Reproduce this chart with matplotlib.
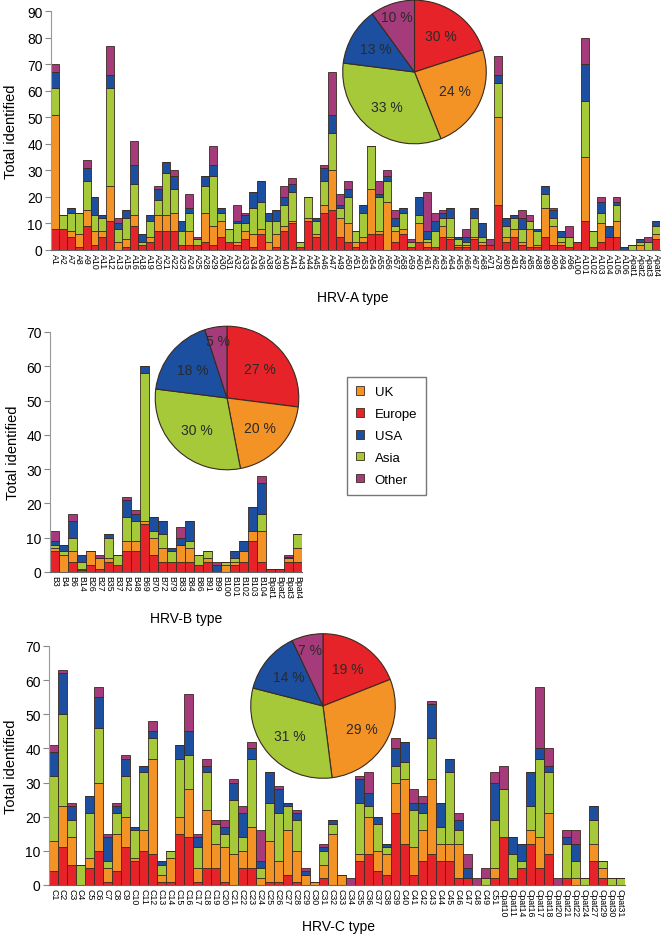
import numpy as np
import matplotlib.pyplot as plt
from matplotlib.patches import Patch

plt.rcParams['font.family'] = ['Liberation Sans', 'DejaVu Sans']

W, H = 661, 937

# colours per region
col_europe = '#e52329'
col_uk = '#f39325'
col_asia = '#a6c93a'
col_usa = '#1c4f9f'
col_other = '#a63b7b'

# ---------------- HRV-A ----------------
a_types = ['A1', 'A2', 'A7', 'A8', 'A9', 'A10', 'A11', 'A12', 'A13', 'A15', 'A16', 'A18', 'A19',
           'A20', 'A21', 'A22', 'A23', 'A24', 'A25', 'A28', 'A29', 'A30', 'A31', 'A32', 'A33',
           'A34', 'A36', 'A38', 'A39', 'A40', 'A41', 'A43', 'A44', 'A45', 'A46', 'A47', 'A49',
           'A50', 'A51', 'A53', 'A54', 'A55', 'A56', 'A57', 'A58', 'A59', 'A60', 'A61', 'A62',
           'A63', 'A64', 'A65', 'A66', 'A67', 'A68', 'A71', 'A78', 'A80', 'A81', 'A82', 'A85',
           'A88', 'A89', 'A90', 'A94', 'A96', 'A100', 'A101', 'A102', 'A103', 'A104', 'A105',
           'A106', 'Apat1', 'Apat2', 'Apat3', 'Apat4']
a_europe = [8, 8, 5, 1, 9, 2, 5, 11, 0, 1, 9, 2, 3, 7, 7, 7, 2, 2, 2, 3, 2, 5, 3, 2, 4, 1, 6, 0, 1,
            7, 10, 1, 11, 5, 14, 15, 5, 3, 1, 3, 6, 6, 0, 3, 6, 1, 3, 1, 1, 5, 4, 1, 1, 4, 2, 2,
            17, 3, 5, 2, 1, 1, 5, 2, 2, 1, 3, 11, 1, 3, 5, 5, 0, 0, 0, 0, 4]
a_uk = [43, 0, 2, 5, 6, 5, 2, 13, 3, 3, 4, 0, 2, 6, 6, 7, 0, 5, 0, 11, 7, 6, 0, 1, 3, 5, 2, 3, 5,
        2, 1, 0, 1, 1, 3, 15, 7, 7, 2, 2, 17, 1, 18, 4, 2, 0, 7, 2, 0, 4, 1, 1, 1, 1, 1, 0,
        33, 2, 3, 1, 7, 1, 11, 7, 1, 0, 0, 24, 0, 7, 0, 6, 0, 0, 2, 0, 2]
a_asia = [10, 5, 7, 8, 11, 6, 5, 37, 5, 8, 12, 1, 6, 6, 16, 9, 5, 7, 2, 10, 19, 3, 5, 7, 3, 10,
          10, 8, 5, 8, 11, 2, 8, 5, 9, 14, 4, 10, 4, 9, 16, 13, 8, 2, 6, 2, 3, 1, 6, 3, 7, 2, 1,
          7, 2, 0, 13, 4, 4, 5, 3, 5, 5, 3, 2, 4, 0, 21, 6, 4, 0, 6, 0, 2, 1, 3, 3]
a_usa = [6, 0, 2, 0, 5, 7, 1, 5, 2, 3, 7, 3, 2, 4, 4, 5, 4, 2, 0, 4, 4, 2, 0, 1, 3, 6, 8, 3, 4, 3,
         3, 0, 0, 1, 5, 7, 1, 3, 0, 3, 0, 1, 2, 3, 2, 0, 7, 3, 4, 2, 4, 1, 2, 4, 5, 0,
         3, 3, 1, 4, 0, 1, 3, 3, 2, 0, 0, 14, 0, 4, 4, 1, 1, 0, 1, 0, 2]
a_other = [3, 0, 0, 0, 3, 0, 0, 11, 2, 0, 9, 0, 0, 1, 0, 2, 0, 5, 1, 0, 7, 0, 0, 6, 1, 0, 0, 0, 0,
           4, 2, 0, 0, 0, 1, 16, 4, 3, 0, 0, 0, 5, 2, 3, 0, 1, 0, 15, 3, 1, 0, 0, 3, 0, 0, 2,
           7, 0, 0, 3, 2, 0, 0, 1, 0, 4, 0, 10, 0, 2, 0, 2, 0, 0, 0, 2, 0]
a_pie = [20, 24, 33, 13, 10]
a_pie_labels = ['30 %', '24 %', '33 %', '13 %', '10 %']

# ---------------- HRV-B ----------------
b_types = ['B3', 'B4', 'B6', 'B14', 'B26', 'B27', 'B35', 'B37', 'B42', 'B48', 'B69', 'B70',
           'B72', 'B79', 'B83', 'B84', 'B86', 'B91', 'B99', 'B100', 'B101', 'B102', 'B103',
           'B104', 'Bpat1', 'Bpat2', 'Bpat3', 'Bpat4']
b_europe = [6, 0, 3, 0.5, 2, 1, 3, 2, 6, 6, 14, 5, 3, 3, 3, 3, 2, 3, 0, 0, 2, 3, 9, 3, 1, 1, 3, 3]
b_uk = [1, 5, 3, 0.5, 4, 3, 1, 0, 3, 3, 1, 5, 4, 0, 5, 4, 0, 1, 0, 2, 1, 3, 3, 9, 0, 0, 1, 4]
b_asia = [1, 1, 4, 2, 0, 0, 6, 3, 7, 6, 43, 2, 4, 3, 0, 2, 3, 2, 0, 1, 1, 0, 0, 5, 0, 0, 0, 4]
b_usa = [1, 2, 5, 2, 0, 0, 1, 0, 5, 2, 2, 4, 4, 1, 2, 6, 0, 0, 2, 0, 2, 3, 7, 9, 0, 0, 0.5, 0]
b_other = [3, 0, 2, 0, 0, 1, 0, 0, 1, 1, 0, 0, 0, 0, 3, 0, 0, 0, 1, 0, 0, 0, 0, 2, 0, 0, 0.5, 0]
b_pie = [27, 20, 30, 18, 5]
b_pie_labels = ['27 %', '20 %', '30 %', '18 %', '5 %']

# ---------------- HRV-C ----------------
c_types = ['C%d' % i for i in range(1, 50)] + ['C51', 'Cpat10', 'Cpat11', 'Cpat14', 'Cpat16',
                                              'Cpat17', 'Cpat18', 'Cpat20', 'Cpat21', 'Cpat22',
                                              'Cpat24', 'Cpat27', 'Cpat29', 'Cpat30', 'Cpat31']
c_europe = [4, 11, 6, 0, 5, 10, 1, 4, 11, 7, 10, 9, 1, 1, 15, 14, 1, 5, 5, 1, 0, 5, 5, 0, 1, 1, 3,
            1, 0, 0, 2, 0, 0, 0, 7, 9, 4, 3, 21, 12, 3, 7, 9, 7, 7, 2, 2, 0, 0, 2,
            14, 2, 5, 12, 5, 9, 0, 2, 0, 0, 7, 2, 0, 0]
c_uk = [9, 12, 8, 0, 3, 20, 4, 11, 9, 1, 6, 28, 2, 7, 5, 14, 4, 17, 7, 10, 9, 5, 12, 2, 12, 6, 13,
        9, 3, 1, 4, 15, 3, 0, 2, 11, 6, 6, 9, 19, 8, 9, 22, 5, 5, 10, 0, 0, 0, 3,
        0, 0, 0, 4, 9, 12, 0, 0, 2, 0, 5, 3, 0, 0]
c_asia = [19, 27, 5, 6, 13, 16, 2, 6, 12, 8, 17, 6, 3, 2, 17, 10, 6, 11, 6, 4, 16, 4, 20, 3, 11,
          14, 7, 9, 0, 0, 4, 3, 0, 0, 15, 3, 8, 2, 5, 5, 11, 5, 12, 5, 21, 4, 0, 0, 2, 14,
          14, 7, 2, 7, 23, 12, 0, 10, 5, 2, 7, 2, 2, 2]
c_usa = [7, 12, 4, 0, 5, 9, 7, 2, 5, 1, 2, 2, 1, 0, 4, 7, 3, 2, 0, 2, 5, 7, 3, 2, 9, 7, 1, 2, 1,
         0, 1, 1, 0, 0, 7, 4, 2, 1, 5, 6, 2, 3, 10, 7, 4, 3, 3, 0, 0, 11,
         0, 5, 5, 10, 3, 2, 0, 2, 5, 0, 4, 0, 0, 0]
c_other = [2, 1, 1, 0, 0, 3, 1, 1, 1, 0, 0, 3, 0, 0, 0, 11, 1, 2, 1, 2, 1, 2, 2, 9, 0, 1, 0, 1,
           1, 0, 1, 0, 0, 2, 1, 6, 0, 0, 3, 0, 4, 2, 1, 0, 0, 2, 4, 2, 3, 3,
           7, 0, 0, 0, 18, 5, 2, 2, 4, 0, 0, 0, 0, 0]
c_pie = [19, 29, 31, 14, 7]
c_pie_labels = ['19 %', '29 %', '31 %', '14 %', '7 %']

legend_names = ['UK', 'Europe', 'USA', 'Asia', 'Other']
legend_cols = [col_uk, col_europe, col_usa, col_asia, col_other]
pie_cols = [col_europe, col_uk, col_asia, col_usa, col_other]

fig = plt.figure(figsize=(W / 100, H / 100), dpi=100)


def add_ax(l, t, r, b):
    return fig.add_axes([l / W, 1 - b / H, (r - l) / W, (b - t) / H])


def stacked(ax, types, parts, ymax, xlabel, xlab_pos, ylab_x):
    x = np.arange(len(types))
    bottom = np.zeros(len(types))
    for vals, c in zip(parts, pie_cols):
        vals = np.array(vals, dtype=float)
        ax.bar(x, vals, bottom=bottom, width=1.0, color=c, edgecolor='#3a2a20', linewidth=0.6)
        bottom += vals
    ax.set_xlim(-0.5, len(types) - 0.5)
    ax.set_ylim(0, ymax)
    ax.set_yticks(range(0, ymax + 1, 10))
    ax.set_xticks(x)
    ax.set_xticklabels(types, rotation=270, fontsize=6.3, va='top', ha='center')
    ax.tick_params(axis='x', length=0, pad=2)
    ax.tick_params(axis='y', labelsize=10, length=4, color='#888888', pad=2)
    for s in ['top', 'right']:
        ax.spines[s].set_visible(False)
    ax.spines['left'].set_color('#999999')
    ax.spines['bottom'].set_color('#666666')
    ax.set_xlabel(xlabel, fontsize=10)
    ax.set_ylabel('Total identified', fontsize=10.5)
    ax.xaxis.set_label_coords(*xlab_pos)
    ax.yaxis.set_label_coords(ylab_x, 0.5)


def pie(cx, cy, r, vals, labels):
    ax = add_ax(cx - r, cy - r, cx + r, cy + r)
    wedges, _ = ax.pie(vals, colors=pie_cols, startangle=90, counterclock=False,
                       wedgeprops=dict(edgecolor='#3a2a20', linewidth=0.8))
    for w, lab, v in zip(wedges, labels, vals):
        ang = np.deg2rad((w.theta1 + w.theta2) / 2)
        d = 0.8 if v <= 10 else 0.62
        ax.text(d * np.cos(ang), d * np.sin(ang), lab, ha='center', va='center',
                fontsize=10, color='#2a2a2a')
    ax.set_xlim(-1.01, 1.01)
    ax.set_ylim(-1.01, 1.01)
    ax.set_aspect('equal')
    ax.axis('off')


axA = add_ax(51, 12, 660, 251)
stacked(axA, a_types, [a_europe, a_uk, a_asia, a_usa, a_other], 90, 'HRV-A type',
        (0.496, -0.167), -0.055)

axB = add_ax(50, 333, 302, 573)
stacked(axB, b_types, [b_europe, b_uk, b_asia, b_usa, b_other], 70, 'HRV-B type',
        (0.54, -0.164), -0.118)

axC = add_ax(49, 647, 625, 886)
stacked(axC, c_types, [c_europe, c_uk, c_asia, c_usa, c_other], 70, 'HRV-C type',
        (0.502, -0.142), -0.053)

pie(414.5, 73, 72.5, a_pie, a_pie_labels)
pie(227, 399, 72.5, b_pie, b_pie_labels)
pie(323, 707, 73, c_pie, c_pie_labels)

handles = [Patch(facecolor=c, edgecolor='#3a2a20', linewidth=0.6) for c in legend_cols]
fig.legend(handles, legend_names, loc='upper left', bbox_to_anchor=(347 / W, 1 - 378 / H),
           frameon=True, fancybox=False, edgecolor='#555555', fontsize=9.5,
           handlelength=0.6, handleheight=0.6, handletextpad=0.8, labelspacing=0.75,
           borderpad=0.7, borderaxespad=0)

fig.savefig('out.png', dpi=100)
